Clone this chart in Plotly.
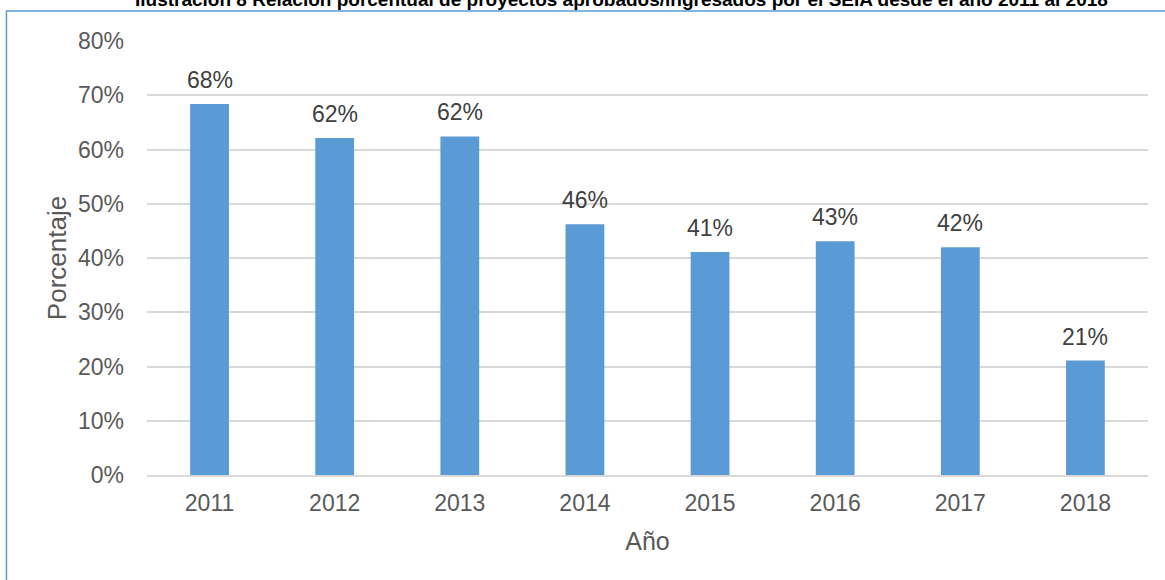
import plotly.graph_objects as go

# Approved / submitted projects ratio per year
years = ["2011", "2012", "2013", "2014", "2015", "2016", "2017", "2018"]
ratio = [0.684, 0.621, 0.624, 0.462, 0.411, 0.431, 0.420, 0.211]
y_ticks = [0, 0.1, 0.2, 0.3, 0.4, 0.5, 0.6, 0.7, 0.8]

title_text = ("Ilustración 8 Relación porcentual de proyectos aprobados/ingresados "
              "por el SEIA desde el año 2011 al 2018")

bar_color = "#5b9bd5"
font_family = "Liberation Sans, Arial, sans-serif"

fig = go.Figure()
fig.add_trace(go.Bar(
    x=years,
    y=ratio,
    marker=dict(color=bar_color, line=dict(width=0)),
    width=0.31,
    hoverinfo="x+y",
))

# value labels above each bar (category index positions on the x axis)
for i, v in enumerate(ratio):
    fig.add_annotation(
        x=i, y=v, xref="x", yref="y",
        text=f"{v:.0%}", showarrow=False,
        yanchor="middle", yshift=24,
        font=dict(family=font_family, size=23, color="#404040"),
    )

# chart title (sits partly above the visible page)
fig.add_annotation(
    x=0.4745, y=1.0945, xref="paper", yref="paper",
    text=f"<b>{title_text}</b>", showarrow=False,
    xanchor="center", yanchor="middle",
    font=dict(family=font_family, size=19, color="#000000"),
)

# chart frame
fig.add_shape(
    type="rect", xref="paper", yref="paper",
    x0=-0.1404, x1=1.06, y0=-0.35, y1=1.069,
    line=dict(color=bar_color, width=1.5),
    fillcolor="rgba(0,0,0,0)", layer="below",
)

fig.update_layout(
    width=1165, height=580,
    margin=dict(l=147, r=17, t=41, b=105),
    paper_bgcolor="white", plot_bgcolor="white",
    showlegend=False,
    font=dict(family=font_family, color="#595959"),
    xaxis=dict(
        type="category",
        range=[-0.5, len(years) - 0.5],
        title=dict(text="Año", font=dict(size=25, color="#595959"), standoff=17),
        tickfont=dict(size=23, color="#595959"),
        showgrid=False, showline=True, linecolor="#d9d9d9", linewidth=1.5,
        ticks="", ticklabelstandoff=7,
    ),
    yaxis=dict(
        title=dict(text="Porcentaje", font=dict(size=26, color="#595959"), standoff=3),
        tickfont=dict(size=23, color="#595959"),
        range=[0, 0.8], tickvals=y_ticks, tickformat=".0%",
        showgrid=True, gridcolor="#d9d9d9", gridwidth=1.5,
        zeroline=False, showline=False, ticks="", ticklabelstandoff=22,
    ),
)

fig.write_html("out.html")
